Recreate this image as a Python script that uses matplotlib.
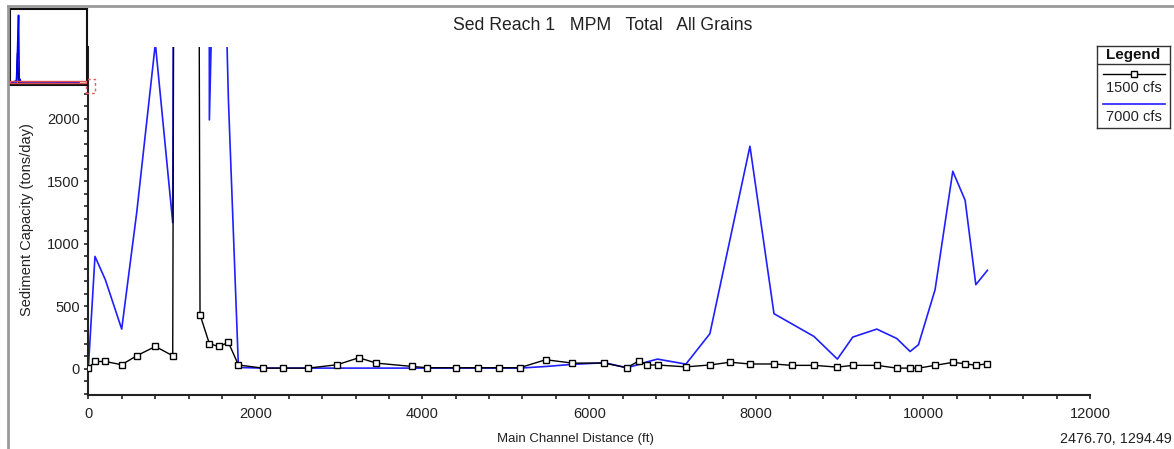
import numpy as np
import matplotlib
matplotlib.use('Agg')
import matplotlib.pyplot as plt
from matplotlib.lines import Line2D
from matplotlib.patches import Rectangle
from matplotlib.ticker import MultipleLocator

plt.rcParams['font.family'] = ['Liberation Sans', 'DejaVu Sans']

# Main channel stations (ft)
stations = [0, 80, 204, 400, 580, 803, 1011, 1170, 1338, 1450, 1562, 1678,
            1798, 2090, 2330, 2633, 2981, 3240, 3449, 3880, 4060, 4408, 4663,
            4919, 5167, 5478, 5798, 6182, 6450, 6597, 6693, 6817, 7157, 7444,
            7684, 7924, 8212, 8423, 8691, 8971, 9155, 9443, 9682, 9842, 9942,
            10141, 10353, 10501, 10629, 10768]

# Sediment capacity (tons/day)
cap_1500 = [5, 58, 58, 32, 104, 178, 104, 40000, 432, 200, 178, 210,
            30, 5, 5, 5, 32, 88, 45, 18, 8, 8, 8,
            8, 8, 72, 45, 45, 8, 64, 30, 30, 15, 30,
            52, 38, 38, 27, 27, 13, 27, 27, 5, 5, 5,
            27, 51, 40, 27, 40]
cap_7000 = [0, 898, 712, 317, 1250, 2600, 1168, 42000, 90000, 1990, 5200, 2150,
            10, 5, 5, 5, 5, 5, 5, 5, 5, 5, 5,
            5, 5, 18, 35, 48, 8, 35, 55, 77, 37, 280,
            1030, 1779, 440, 360, 258, 77, 253, 317, 242, 138, 192,
            632, 1579, 1347, 672, 787]

series_names = ['1500 cfs', '7000 cfs']
title = 'Sed Reach 1   MPM   Total   All Grains'
coord_text = '2476.70, 1294.49'

W, H = 1174, 449
BLUE = '#1f1fff'
TXT = '#222222'


def fx(px):
    return px / W


def fy(py):
    return 1 - py / H


fig = plt.figure(figsize=(W / 100, H / 100), dpi=100)
fig.patch.set_facecolor('white')

# main axes
ax = fig.add_axes([fx(88.3), fy(395), (1090.3 - 88.3) / W, (395 - 46.7) / H])
ax.plot(stations, cap_7000, color=BLUE, lw=1.2, zorder=2)
ax.plot(stations, cap_1500, color='black', lw=1.0, marker='s', ms=4.5,
        mfc='white', mec='black', mew=1.0, zorder=3)
ax.set_xlim(0, 12000)
ax.set_ylim(-210, 2575)
ax.spines['top'].set_visible(False)
ax.spines['right'].set_visible(False)
for s in ('left', 'bottom'):
    ax.spines[s].set_linewidth(1.5)
    ax.spines[s].set_color(TXT)
ax.xaxis.set_major_locator(MultipleLocator(2000))
ax.xaxis.set_minor_locator(MultipleLocator(400))
ax.yaxis.set_major_locator(MultipleLocator(500))
ax.yaxis.set_minor_locator(MultipleLocator(100))
ax.tick_params(which='both', direction='out', length=3, width=1.2,
               colors=TXT, labelsize=10.5, labelcolor=TXT)
ax.tick_params(axis='x', pad=6)
ax.tick_params(axis='y', pad=3)

fig.text(fx(603), fy(25), title, ha='center', va='center', fontsize=12.7,
         color=TXT)
fig.text(fx(575), fy(439), 'Main Channel Distance (ft)', ha='center',
         va='center', fontsize=9.5, color=TXT)
fig.text(fx(27), fy(220), 'Sediment Capacity (tons/day)', ha='center',
         va='center', rotation=90, fontsize=10.5, color=TXT)
fig.text(fx(1172), fy(439), coord_text, ha='right', va='center',
         fontsize=10.4, color=TXT)

# outer gray frame
fig.add_artist(Line2D([fx(8), 1], [fy(6), fy(6)], color='#9a9a9a', lw=2))
fig.add_artist(Line2D([fx(8), fx(8)], [fy(6), 0], color='#9a9a9a', lw=2))

# overview inset
ins = fig.add_axes([fx(10), fy(85), 76.7 / W, 75.7 / H])
ins.plot(stations, cap_1500, color='black', lw=1.0, zorder=2)
ins.plot(stations, cap_7000, color='blue', lw=1.2, zorder=3)
ins.add_patch(Rectangle((0, -210), 12000, 2785, fill=False,
                        ec='#e05050', lw=1.0, zorder=4))
ins.set_xlim(0, 12000)
ins.set_ylim(-2500, 98000)
ins.set_xticks([])
ins.set_yticks([])
for s in ins.spines.values():
    s.set_linewidth(1.5)
    s.set_color('#111111')

# small dashed zoom marker next to the inset
fig.add_artist(Rectangle((fx(86), fy(93)), 9 / W, 14 / H, fill=False,
                         ec='#e06060', lw=1, ls=(0, (2, 2))))

# legend box
leg = fig.add_axes([fx(1097), fy(128), 73 / W, 82 / H])
leg.set_xlim(1097, 1170)
leg.set_ylim(128, 46)
leg.set_xticks([])
leg.set_yticks([])
for s in leg.spines.values():
    s.set_linewidth(1.0)
    s.set_color('#333333')
leg.axhline(64, color='#333333', lw=1.0)
leg.text(1133.5, 55, 'Legend', ha='center', va='center', fontsize=11,
         fontweight='bold', color='#111111')
leg.plot([1103, 1165], [73.5, 73.5], color='black', lw=1.0)
leg.plot([1133.5], [73.5], marker='s', ms=4, mfc='white', mec='black')
leg.text(1133.5, 88, series_names[0], ha='center', va='center', fontsize=10.5,
         color=TXT)
leg.plot([1103, 1165], [103.5, 103.5], color=BLUE, lw=1.2)
leg.text(1133.5, 117, series_names[1], ha='center', va='center', fontsize=10.5,
         color=TXT)

plt.savefig('out.png', dpi=100)
plt.close()
